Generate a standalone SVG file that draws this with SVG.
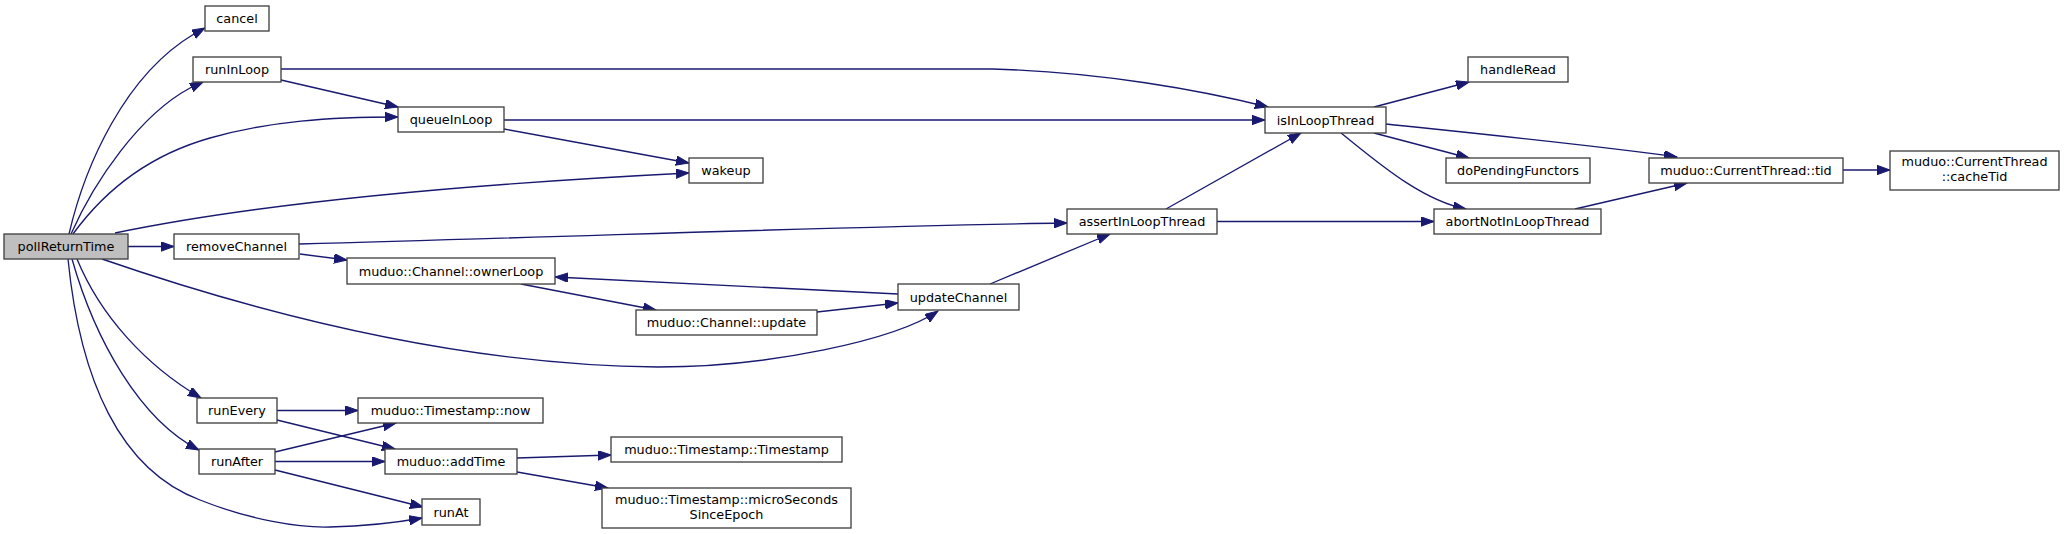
<svg xmlns="http://www.w3.org/2000/svg" width="2064" height="534" viewBox="0 0 2064 534">
<style>
.node rect{fill:#ffffff;stroke:#404040;stroke-width:1.33}
.node.cur rect{fill:#bfbfbf}
.node text{font-family:"DejaVu Sans","Liberation Sans",sans-serif;font-size:12.8px;text-anchor:middle;fill:#000000}
#edges path{fill:none;stroke:#191970;stroke-width:1.33;marker-end:url(#arr)}
</style>
<defs>
<marker id="arr" markerUnits="userSpaceOnUse" markerWidth="14" markerHeight="10" refX="13" refY="4.7" orient="auto">
<polygon points="0,0 13,4.7 0,9.4" fill="#191970" stroke="#191970" stroke-width="1"/>
</marker>
</defs>
<rect width="2064" height="534" fill="#ffffff"/>
<g id="edges">
<path d="M69,234 C85,165 125,75 194,34 L205,28"/>
<path d="M71,234 C95,180 140,115 190,88 L203,82"/>
<path d="M73,234 C105,190 150,155 210,138 C270,121 330,117 398,117"/>
<path d="M115,233 C250,205 450,185 689,173"/>
<path d="M128,246.5 L174,246.5"/>
<path d="M102,259 C250,310 450,365 658,367 C770,367 895,340 938,311"/>
<path d="M77,259 C100,315 145,365 201,398"/>
<path d="M72,259 C95,340 140,420 199,450"/>
<path d="M68,259 C80,380 120,470 200,500 C250,520 300,528 330,527 C370,526 400,522 422,518"/>
<path d="M281,69 L993,69 C1100,72 1200,90 1268,107"/>
<path d="M281,80 L398,107"/>
<path d="M504,120 L1265,120"/>
<path d="M504,129 L689,163"/>
<path d="M299,244 C600,236 850,226 1067,223"/>
<path d="M300,254 L347,260"/>
<path d="M521,284 L656,310"/>
<path d="M817,312 L898,303"/>
<path d="M898,294 L555,277"/>
<path d="M990,284 L1110,234"/>
<path d="M1166,209 L1301,133"/>
<path d="M1217,221.5 L1434,221.5"/>
<path d="M1374,107 L1469,82"/>
<path d="M1374,133 L1469,158"/>
<path d="M1341,133 C1375,160 1420,200 1466,209"/>
<path d="M1386,124 C1500,136 1600,146 1677,157"/>
<path d="M1575,209 L1687,183"/>
<path d="M1843,170 L1890,170"/>
<path d="M277,410.5 L358,410.5"/>
<path d="M277,420 L395,449"/>
<path d="M275,452 L396,423"/>
<path d="M275,461.5 L385,461.5"/>
<path d="M275,470 L423,507"/>
<path d="M517,458 L611,455"/>
<path d="M517,472 L608,488"/>
</g>
<g id="n_pollReturnTime" class="node cur"><rect x="4" y="234" width="124" height="25"/><text x="66" y="251">pollReturnTime</text></g>
<g id="n_cancel" class="node"><rect x="205" y="6" width="64" height="25"/><text x="237" y="23">cancel</text></g>
<g id="n_runInLoop" class="node"><rect x="193" y="57" width="88" height="25"/><text x="237" y="74">runInLoop</text></g>
<g id="n_queueInLoop" class="node"><rect x="398" y="107" width="106" height="25"/><text x="451" y="124">queueInLoop</text></g>
<g id="n_wakeup" class="node"><rect x="689" y="158" width="74" height="25"/><text x="726" y="175">wakeup</text></g>
<g id="n_removeChannel" class="node"><rect x="174" y="234" width="125" height="25"/><text x="236.5" y="251">removeChannel</text></g>
<g id="n_ownerLoop" class="node"><rect x="347" y="258" width="208" height="26"/><text x="451" y="275.5">muduo::Channel::ownerLoop</text></g>
<g id="n_channelUpdate" class="node"><rect x="636" y="310" width="181" height="25"/><text x="726.5" y="327">muduo::Channel::update</text></g>
<g id="n_updateChannel" class="node"><rect x="898" y="284" width="121" height="26"/><text x="958.5" y="301.5">updateChannel</text></g>
<g id="n_assertInLoopThread" class="node"><rect x="1067" y="209" width="150" height="25"/><text x="1142" y="226">assertInLoopThread</text></g>
<g id="n_isInLoopThread" class="node"><rect x="1265" y="107" width="121" height="26"/><text x="1325.5" y="124.5">isInLoopThread</text></g>
<g id="n_handleRead" class="node"><rect x="1468" y="57" width="100" height="25"/><text x="1518" y="74">handleRead</text></g>
<g id="n_doPendingFunctors" class="node"><rect x="1446" y="158" width="144" height="25"/><text x="1518" y="175">doPendingFunctors</text></g>
<g id="n_abortNotInLoopThread" class="node"><rect x="1434" y="209" width="167" height="25"/><text x="1517.5" y="226">abortNotInLoopThread</text></g>
<g id="n_tid" class="node"><rect x="1649" y="158" width="194" height="25"/><text x="1746" y="175">muduo::CurrentThread::tid</text></g>
<g id="n_cacheTid" class="node"><rect x="1890" y="151" width="169" height="39"/><text x="1974.5" y="166">muduo::CurrentThread</text><text x="1974.5" y="181">::cacheTid</text></g>
<g id="n_runEvery" class="node"><rect x="197" y="398" width="80" height="25"/><text x="237" y="415">runEvery</text></g>
<g id="n_now" class="node"><rect x="358" y="398" width="185" height="25"/><text x="450.5" y="415">muduo::Timestamp::now</text></g>
<g id="n_runAfter" class="node"><rect x="199" y="449" width="76" height="25"/><text x="237" y="466">runAfter</text></g>
<g id="n_addTime" class="node"><rect x="385" y="449" width="132" height="25"/><text x="451" y="466">muduo::addTime</text></g>
<g id="n_runAt" class="node"><rect x="422" y="499" width="58" height="26"/><text x="451" y="516.5">runAt</text></g>
<g id="n_timestamp" class="node"><rect x="611" y="437" width="231" height="25"/><text x="726.5" y="454">muduo::Timestamp::Timestamp</text></g>
<g id="n_microSeconds" class="node"><rect x="602" y="488" width="249" height="40"/><text x="726.5" y="504">muduo::Timestamp::microSeconds</text><text x="726.5" y="519">SinceEpoch</text></g>
</svg>
